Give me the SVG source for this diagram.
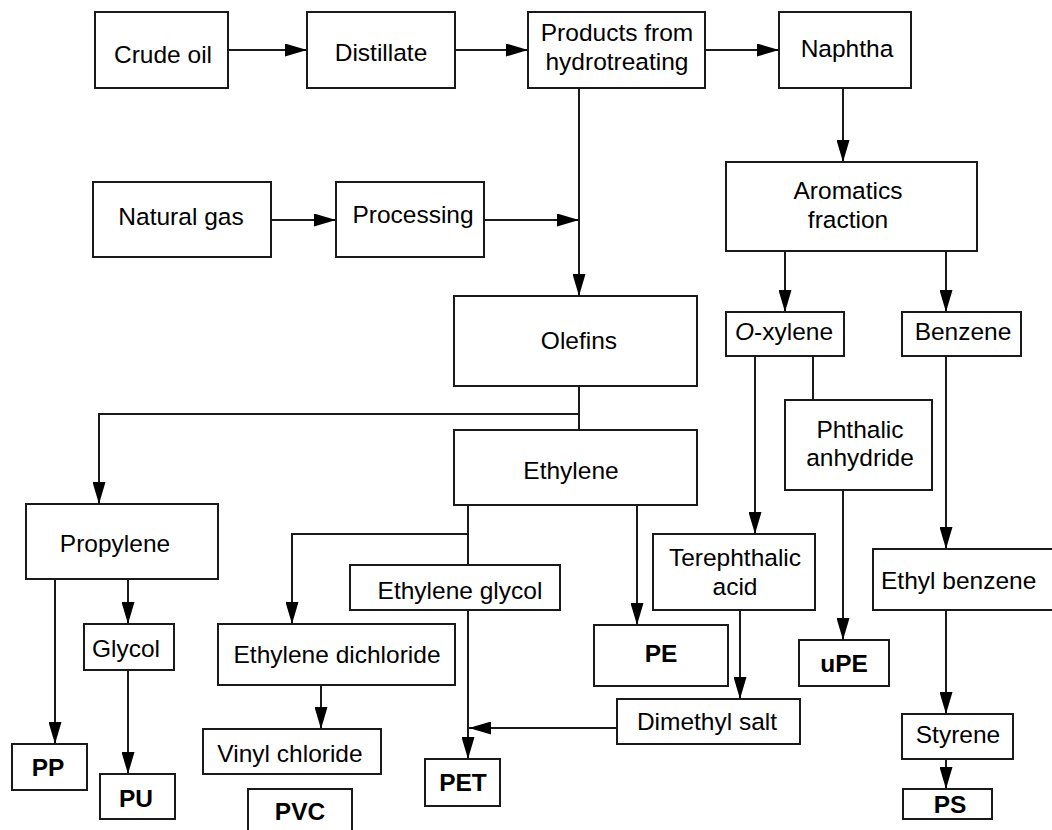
<svg xmlns="http://www.w3.org/2000/svg" width="1052" height="830" viewBox="0 0 1052 830">
<style>
rect.b{fill:#fff;stroke:#1a1a1a;stroke-width:2}
text{font-family:"Liberation Sans",Arial,Helvetica,sans-serif;font-size:24.5px;fill:#000;text-anchor:middle}
text.bold{font-weight:bold}
#connectors path{fill:none;stroke:#1a1a1a;stroke-width:2}
</style>
<defs>
<marker id="ah" markerUnits="userSpaceOnUse" markerWidth="22" markerHeight="13" refX="22" refY="6.5" orient="auto">
<path d="M0,0 L22,6.5 L0,13 z" fill="#000"/>
</marker>
</defs>
<rect width="1052" height="830" fill="#fff"/>
<g id="connectors">
<path d="M228,50 H307" marker-end="url(#ah)"/>
<path d="M455,50 H528" marker-end="url(#ah)"/>
<path d="M705,50 H779" marker-end="url(#ah)"/>
<path d="M271,220 H336" marker-end="url(#ah)"/>
<path d="M484,220 H579" marker-end="url(#ah)"/>
<path d="M579,88 V296" marker-end="url(#ah)"/>
<path d="M843,88 V162" marker-end="url(#ah)"/>
<path d="M785,251 V312" marker-end="url(#ah)"/>
<path d="M946,251 V312" marker-end="url(#ah)"/>
<path d="M579,386 V430"/>
<path d="M579,414 H99 V504" marker-end="url(#ah)"/>
<path d="M755,356 V534" marker-end="url(#ah)"/>
<path d="M813,356 V400"/>
<path d="M946,356 V549" marker-end="url(#ah)"/>
<path d="M468,505 V565"/>
<path d="M468,534 H292 V624" marker-end="url(#ah)"/>
<path d="M637,505 V625" marker-end="url(#ah)"/>
<path d="M55,579 V744" marker-end="url(#ah)"/>
<path d="M128,579 V624" marker-end="url(#ah)"/>
<path d="M128,670 V774" marker-end="url(#ah)"/>
<path d="M321,685 V729" marker-end="url(#ah)"/>
<path d="M468,610 V759" marker-end="url(#ah)"/>
<path d="M617,728 H469" marker-end="url(#ah)"/>
<path d="M740,610 V699" marker-end="url(#ah)"/>
<path d="M843,490 V640" marker-end="url(#ah)"/>
<path d="M946,610 V714" marker-end="url(#ah)"/>
<path d="M946,759 V789" marker-end="url(#ah)"/>
</g>
<g id="crude-oil"><rect class="b" x="95" y="12" width="133" height="76"/><text x="163" y="63">Crude oil</text></g>
<g id="distillate"><rect class="b" x="307" y="12" width="148" height="76"/><text x="381" y="61">Distillate</text></g>
<g id="products"><rect class="b" x="528" y="12" width="177" height="76"/><text x="617" y="41">Products from</text><text x="617" y="70">hydrotreating</text></g>
<g id="naphtha"><rect class="b" x="779" y="12" width="132" height="76"/><text x="847" y="57">Naphtha</text></g>
<g id="natural-gas"><rect class="b" x="93" y="182" width="178" height="75"/><text x="181" y="225">Natural gas</text></g>
<g id="processing"><rect class="b" x="336" y="182" width="148" height="75"/><text x="413" y="223">Processing</text></g>
<g id="aromatics"><rect class="b" x="726" y="162" width="251" height="89"/><text x="848" y="199">Aromatics</text><text x="848" y="228">fraction</text></g>
<g id="olefins"><rect class="b" x="454" y="296" width="243" height="90"/><text x="579" y="349">Olefins</text></g>
<g id="o-xylene"><rect class="b" x="726" y="312" width="118" height="44"/><text x="784" y="340"><tspan font-style="italic">O</tspan>-xylene</text></g>
<g id="benzene"><rect class="b" x="902" y="312" width="119" height="44"/><text x="963" y="340">Benzene</text></g>
<g id="phthalic"><rect class="b" x="785" y="400" width="147" height="90"/><text x="860" y="438">Phthalic</text><text x="860" y="466">anhydride</text></g>
<g id="ethylene"><rect class="b" x="454" y="430" width="243" height="75"/><text x="571" y="479">Ethylene</text></g>
<g id="propylene"><rect class="b" x="26" y="504" width="192" height="75"/><text x="115" y="552">Propylene</text></g>
<g id="terephthalic"><rect class="b" x="653" y="534" width="162" height="76"/><text x="735" y="566">Terephthalic</text><text x="735" y="595">acid</text></g>
<g id="ethyl-benzene"><rect class="b" x="873" y="549" width="190" height="61"/><text x="881" y="589" style="text-anchor:start">Ethyl benzene</text></g>
<g id="ethylene-glycol"><rect class="b" x="350" y="565" width="210" height="45"/><text x="460" y="599">Ethylene glycol</text></g>
<g id="glycol"><rect class="b" x="84" y="624" width="90" height="46"/><text x="126" y="657">Glycol</text></g>
<g id="ethylene-dichloride"><rect class="b" x="218" y="624" width="237" height="61"/><text x="337" y="663">Ethylene dichloride</text></g>
<g id="pe"><rect class="b" x="594" y="625" width="134" height="61"/><text class="bold" x="661" y="662">PE</text></g>
<g id="upe"><rect class="b" x="799" y="640" width="90" height="46"/><text class="bold" x="844" y="672">uPE</text></g>
<g id="dimethyl-salt"><rect class="b" x="617" y="699" width="183" height="45"/><text x="707" y="730">Dimethyl salt</text></g>
<g id="styrene"><rect class="b" x="902" y="714" width="111" height="45"/><text x="958" y="743">Styrene</text></g>
<g id="vinyl-chloride"><rect class="b" x="203" y="729" width="178" height="45"/><text x="290" y="762">Vinyl chloride</text></g>
<g id="pp"><rect class="b" x="12" y="744" width="75" height="46"/><text class="bold" x="48" y="776">PP</text></g>
<g id="pet"><rect class="b" x="425" y="759" width="75" height="47"/><text class="bold" x="463" y="791">PET</text></g>
<g id="pu"><rect class="b" x="100" y="774" width="75" height="45"/><text class="bold" x="136" y="807">PU</text></g>
<g id="ps"><rect class="b" x="903" y="789" width="89" height="30"/><text class="bold" x="950" y="813">PS</text></g>
<g id="pvc"><rect class="b" x="248" y="789" width="104" height="50"/><text class="bold" x="300" y="820">PVC</text></g>
</svg>
